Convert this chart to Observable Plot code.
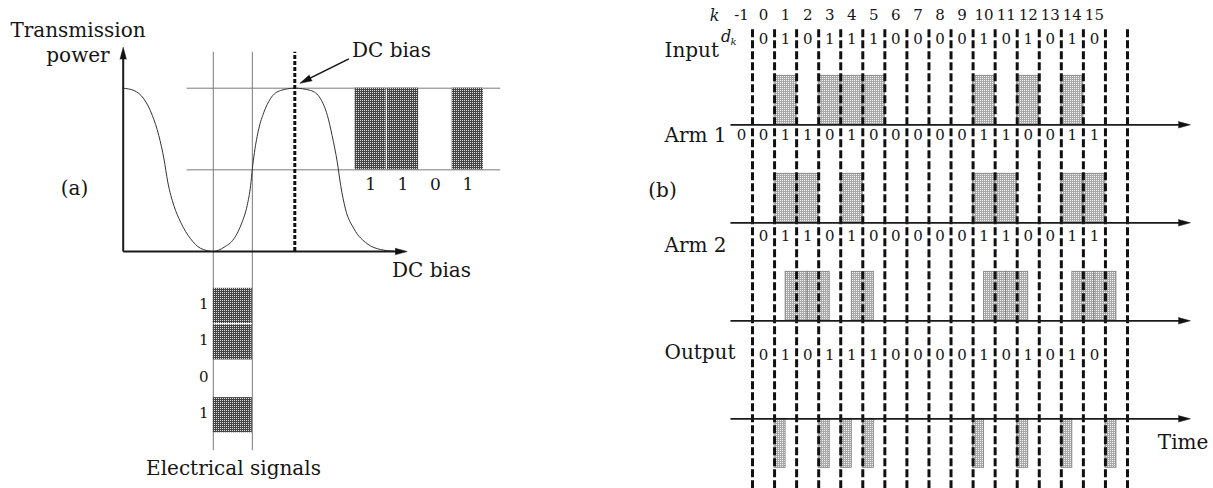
<!DOCTYPE html>
<html><head><meta charset="utf-8">
<script src="https://cdn.jsdelivr.net/npm/d3@7"></script>
<script src="https://cdn.jsdelivr.net/npm/@observablehq/plot@0.6"></script>
<style>
body{margin:0;background:#fff;}
#fig{display:flex;width:1213px;height:488px;overflow:hidden;}
#fig svg{display:block;flex:none;}
</style></head>
<body>
<svg id="defs" width="0" height="0" style="position:absolute;left:0;top:0"></svg>
<div id="fig"></div>
<script>
// ================= Panel (a): modulator transfer curve =================
// Transfer curve (bias in arbitrary units, power normalised 0..1)
const curveBias  = [0, 0.25, 0.48, 0.68, 0.83, 0.95, 1.04, 1.18, 1.34, 1.57, 1.80, 2.10,
                    2.35, 2.58, 2.77, 2.89, 2.97, 3.01, 3.06, 3.16, 3.28, 3.43, 3.67, 4.00,
                    4.37, 4.60, 4.76, 4.87, 4.99, 5.07, 5.18, 5.38, 5.69, 6.00, 6.31];
const curvePower = [1.00, 0.986, 0.935, 0.833, 0.71, 0.567, 0.424, 0.282, 0.179, 0.078, 0.02, 0,
                    0.026, 0.078, 0.179, 0.282, 0.404, 0.506, 0.608, 0.751, 0.853, 0.935, 0.986, 1.00,
                    0.986, 0.935, 0.833, 0.71, 0.547, 0.404, 0.261, 0.139, 0.047, 0.012, 0.002];
const electricalSwing = [2.10, 3.01];   // bias range swept by the electrical signal
const dcBias = 4.0;                      // DC bias point
const opticalLevels = [0.5, 1.0];        // power levels of the optical output
const opticalBits = [1, 1, 0, 1];
const electricalBits = [1, 1, 0, 1];

// ================= Panel (b): duobinary timing diagram =================
const kLabels    = [-1, 0, 1, 2, 3, 4, 5, 6, 7, 8, 9, 10, 11, 12, 13, 14, 15];
const inputBits  = [0, 1, 0, 1, 1, 1, 0, 0, 0, 0, 1, 0, 1, 0, 1, 0];        // d_k, k = 0..15
const arm1Bits   = [0, 0, 1, 1, 0, 1, 0, 0, 0, 0, 0, 1, 1, 0, 0, 1, 1];     // k = -1..15
const arm2Bits   = [0, 1, 1, 0, 1, 0, 0, 0, 0, 0, 1, 1, 0, 0, 1, 1];        // k = 0..15
const outputBits = [0, 1, 0, 1, 1, 1, 0, 0, 0, 0, 1, 0, 1, 0, 1, 0];        // k = 0..15
const outputPulseSlots = [1, 3, 4, 5, 10, 12, 14, 16];
const rowLabels  = ["Input", "Arm 1", "Arm 2", "Output"];
const slotBoundaries = [0, 1, 2, 3, 4, 5, 6, 7, 8, 9, 10, 11, 12, 13, 14, 15, 16, 17];

// ---------- fill patterns (fine halftone dots) ----------
const defs = d3.select("#defs").append("defs");
function pattern(id, bg, dot) {
  const p = defs.append("pattern").attr("id", id).attr("patternUnits", "userSpaceOnUse")
    .attr("width", 2).attr("height", 2);
  p.append("rect").attr("width", 2).attr("height", 2).attr("fill", bg);
  p.append("rect").attr("x", 0).attr("y", 0).attr("width", 1).attr("height", 1).attr("fill", dot);
}
pattern("patDark", "#444444", "#e0e0e0");
pattern("patLight", "#a8a8a8", "#f6f6f6");

const serif = "'DejaVu Serif', serif";
const ink = "#151515";

// ---------- Panel (a) ----------
const AX = {domain: [0, 4], range: [122.7, 294.3]};
const AY = {domain: [0, 1], range: [251, 87.7]};
const pxPerX = (AX.range[1] - AX.range[0]) / (AX.domain[1] - AX.domain[0]);
const pxPerY = (AY.range[0] - AY.range[1]) / (AY.domain[1] - AY.domain[0]);

const curveTable = curveBias.map((x, i) => ({x, y: curvePower[i]}));
const OPT_X0 = 5.39, OPT_W = 0.755;
const EL_Y0 = -0.222, EL_H = 0.223;
const optical = opticalBits.map((b, i) => ({i, b}));
const electrical = electricalBits.map((b, i) => ({i, b}));

const annFrom = {x: 5.26, y: 1.18}, annTo = {x: 4.12, y: 1.03};
const annRot = Math.atan2((annTo.x - annFrom.x) * pxPerX, (annTo.y - annFrom.y) * pxPerY) * 180 / Math.PI;

const left = Plot.plot({
  width: 620, height: 488, margin: 0,
  x: {...AX, axis: null},
  y: {...AY, axis: null},
  style: {fontFamily: serif, color: ink, background: "transparent", overflow: "visible"},
  marks: [
    Plot.ruleY(opticalLevels, {x1: 1.49, x2: 8.8, stroke: "#7a7a7a", strokeWidth: 1}),
    Plot.ruleX(electricalSwing, {y1: -1.22, y2: 1.22, stroke: "#7a7a7a", strokeWidth: 1}),
    Plot.rect(optical.filter(d => d.b), {
      x1: d => OPT_X0 + OPT_W * d.i, x2: d => OPT_X0 + OPT_W * (d.i + 1),
      y1: opticalLevels[0], y2: opticalLevels[1],
      fill: "url(#patDark)", insetLeft: 0.6, insetRight: 0.6
    }),
    Plot.text(optical, {
      x: d => OPT_X0 + OPT_W * (d.i + 0.5), y: 0.41, text: d => String(d.b),
      fontSize: 17, fill: ink
    }),
    Plot.rect(electrical.filter(d => d.b), {
      x1: electricalSwing[0], x2: electricalSwing[1],
      y1: d => EL_Y0 - EL_H * d.i, y2: d => EL_Y0 - EL_H * (d.i + 1),
      fill: "url(#patDark)", insetTop: 0.6, insetBottom: 0.6
    }),
    Plot.text(electrical, {
      x: 1.88, y: d => EL_Y0 - EL_H * (d.i + 0.5) + 0.012, text: d => String(d.b),
      fontSize: 15, fill: ink
    }),
    Plot.line(curveTable, {x: "x", y: "y", curve: "monotone-x", stroke: "#333", strokeWidth: 1}),
    // axes
    Plot.link([{x1: 0, y1: 0, x2: 0, y2: 1.2}, {x1: 0, y1: 0, x2: 6.5, y2: 0}],
      {x1: "x1", y1: "y1", x2: "x2", y2: "y2", stroke: "#1a1a1a", strokeWidth: 2}),
    Plot.vector([{x: 0, y: 1.251, r: 0}, {x: 6.62, y: 0, r: 90}],
      {x: "x", y: "y", rotate: "r", length: 12, r: 3.2, shape: "spike", anchor: "end",
       fill: "#111", stroke: "#111", strokeWidth: 0.5}),
    // DC bias marker
    Plot.ruleX([dcBias], {y1: 0, y2: 1.22, stroke: "#111", strokeWidth: 3, strokeDasharray: "4,2"}),
    Plot.link([{}], {x1: annFrom.x, y1: annFrom.y, x2: annTo.x + 0.12, y2: annTo.y + 0.016,
      stroke: "#111", strokeWidth: 1.5}),
    Plot.vector([annTo], {x: "x", y: "y", rotate: annRot, length: 12, r: 3.2, shape: "spike",
      anchor: "end", fill: "#111", stroke: "#111", strokeWidth: 0.5}),
    // labels
    Plot.text(["Transmission\npower"], {x: -1.054, y: 1.159, lineAnchor: "bottom", lineHeight: 1.25,
      fontSize: 20, fill: ink}),
    Plot.text(["DC bias"], {x: 6.254, y: 1.19, lineAnchor: "bottom", fontSize: 20, fill: ink}),
    Plot.text(["DC bias"], {x: 7.186, y: -0.157, lineAnchor: "bottom", fontSize: 20, fill: ink}),
    Plot.text(["(a)"], {x: -1.135, y: 0.383, fontSize: 20, fill: ink}),
    Plot.text(["Electrical signals"], {x: 2.571, y: -1.366, lineAnchor: "bottom", fontSize: 20, fill: ink})
  ]
});

// ---------- Panel (b) ----------
const pulses = (bits, k0, shift) => bits.map((b, i) => ({k: i + k0, b}))
  .filter(d => d.b).map(d => ({x1: d.k + shift, x2: d.k + shift + 1}));
const rowBase = rowLabels.map((_, r) => -2 * r);
const rowLabelY = [1.516, -0.218, -2.46, -4.65];
const bitRows = [
  {bits: inputBits, k0: 0, y: 1.755},
  {bits: arm1Bits, k0: -1, y: -0.218},
  {bits: arm2Bits, k0: 0, y: -2.27},
  {bits: outputBits, k0: 0, y: -4.71}
];
const bitText = bitRows.flatMap(r => r.bits.map((b, i) => ({x: r.k0 + i + 0.5, y: r.y, t: String(b)})));

const pulseStyle = {fill: "url(#patLight)", stroke: "#7c7c7c", strokeWidth: 0.8};

const right = Plot.plot({
  width: 593, height: 488, margin: 0,
  x: {domain: [0, 17], range: [132, 507], axis: null},
  y: {domain: [0, -7], range: [124.3, 467.3], axis: null},
  style: {fontFamily: serif, color: ink, background: "transparent", overflow: "visible"},
  marks: [
    Plot.rect(pulses(inputBits, 0, 0), {x1: "x1", x2: "x2", y1: rowBase[0], y2: rowBase[0] + 1, ...pulseStyle}),
    Plot.rect(pulses(arm1Bits, -1, 0), {x1: "x1", x2: "x2", y1: rowBase[1], y2: rowBase[1] + 1, ...pulseStyle}),
    Plot.rect(pulses(arm2Bits, 0, 0.5), {x1: "x1", x2: "x2", y1: rowBase[2], y2: rowBase[2] + 1, ...pulseStyle}),
    Plot.rect(outputPulseSlots, {x1: d => d, x2: d => d + 0.5, y1: rowBase[3], y2: rowBase[3] - 1, ...pulseStyle}),
    Plot.ruleX(slotBoundaries, {y1: 1.94, y2: -7.6, stroke: "#111", strokeWidth: 3, strokeDasharray: "8,3"}),
    Plot.link(rowBase, {x1: -1, x2: 19.4, y1: d => d, y2: d => d, stroke: "#1a1a1a", strokeWidth: 1.8}),
    Plot.vector(rowBase, {x: 19.85, y: d => d, rotate: 90, length: 12, r: 3.2, shape: "spike",
      anchor: "end", fill: "#111", stroke: "#111", strokeWidth: 0.5}),
    // header
    Plot.text(kLabels, {x: d => d + 0.5, y: 2.23, text: d => String(d), fontSize: 15, fill: ink}),
    Plot.text(["k"], {x: -1.72, y: 2.23, fontSize: 16, fontStyle: "italic", fill: ink}),
    Plot.text(["d"], {x: -1.2, y: 1.80, fontSize: 16, fontStyle: "italic", fill: ink}),
    Plot.text(["k"], {x: -0.86, y: 1.69, fontSize: 10, fontStyle: "italic", fill: ink}),
    // bit values
    Plot.text(bitText, {x: "x", y: "y", text: "t", fontSize: 15, fill: ink}),
    // row labels
    Plot.text(rowLabels, {x: -3.99, y: (d, i) => rowLabelY[i], textAnchor: "start", fontSize: 20, fill: ink}),
    Plot.text(["(b)"], {x: -4.08, y: -1.34, fontSize: 20, fill: ink}),
    Plot.text(["Time"], {x: 19.52, y: -6.48, fontSize: 20, fill: ink})
  ]
});

document.getElementById("fig").append(left, right);
</script>
</body></html>
